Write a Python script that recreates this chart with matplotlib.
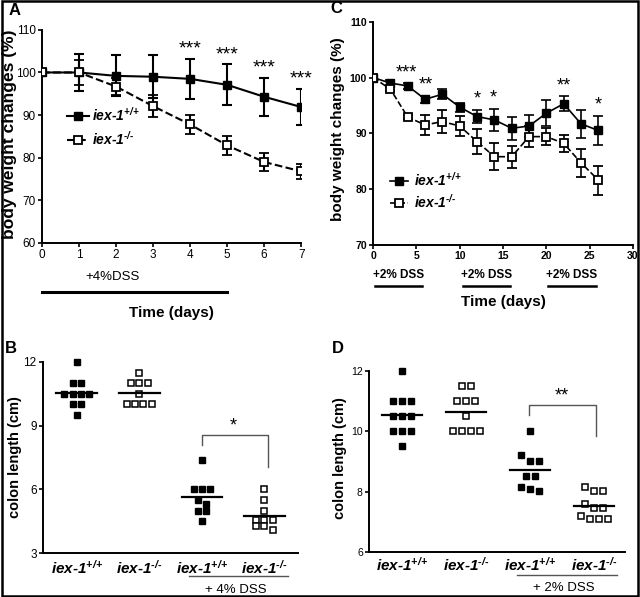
import matplotlib
matplotlib.use('Agg')
import matplotlib.pyplot as plt
from matplotlib.lines import Line2D
from matplotlib.patches import Rectangle

plt.rcParams['font.family'] = ['Liberation Sans', 'DejaVu Sans']
plt.rcParams['mathtext.fontset'] = 'custom'
plt.rcParams['mathtext.it'] = 'Liberation Sans:italic:bold'
plt.rcParams['mathtext.rm'] = 'Liberation Sans:italic:bold'
plt.rcParams['mathtext.bf'] = 'Liberation Sans:bold'

# ---- Panel A: body weight, 4% DSS ----
days_a = [0, 1, 2, 3, 4, 5, 6, 7]
wt_a = [100, 100, 99.2, 99.0, 98.5, 97.1, 94.3, 91.9]
wt_a_err = [0, 4.4, 4.8, 5.0, 4.7, 4.8, 4.4, 4.2]
ko_a = [100, 100, 96.7, 92.1, 87.8, 82.9, 79.0, 76.8]
ko_a_err = [0, 3.0, 2.0, 2.5, 2.2, 2.3, 2.1, 1.7]
stars_a = [(4, '***'), (5, '***'), (6, '***'), (7, '***')]
dss_a = (0, 5)

# ---- Panel C: body weight, cycles of 2% DSS ----
days_c = [0, 2, 4, 6, 8, 10, 12, 14, 16, 18, 20, 22, 24, 26]
wt_c = [100, 99.0, 98.5, 96.1, 97.0, 94.7, 93.0, 92.4, 90.9, 91.3, 93.6, 95.3, 91.7, 90.5]
wt_c_err = [0, 0.6, 0.5, 0.6, 0.9, 0.8, 1.2, 2.0, 2.1, 2.0, 2.3, 1.3, 2.5, 2.6]
ko_c = [100, 97.9, 92.9, 91.5, 92.1, 91.3, 88.5, 85.8, 85.8, 89.4, 89.4, 88.2, 84.7, 81.6]
ko_c_err = [0, 0.4, 0.4, 1.8, 2.1, 1.8, 2.2, 2.4, 2.0, 1.9, 1.5, 1.5, 2.5, 2.6]
stars_c = [(3.85, 99.0, '***'), (6.1, 96.7, '**'), (12, 94.2, '*'), (13.9, 94.4, '*'),
           (22, 96.6, '**'), (26, 93.1, '*')]
dss_c = [(0.2, 5.6), (10.4, 15.8), (20.2, 25.7)]

# ---- Panel B: colon length, 4% DSS ----
groups_b = [
    [12, 11, 11, 10.5, 10.5, 10.5, 10.5, 10, 10, 9.5],
    [11.5, 11, 11, 11, 10.5, 10, 10, 10, 10],
    [7.4, 6, 6, 6, 5.5, 5.3, 5.0, 5.0, 4.5],
    [6.0, 5.5, 5.0, 4.55, 4.55, 4.55, 4.27, 4.27, 4.08],
]
# ---- Panel D: colon length, 2% DSS ----
groups_d = [
    [12, 11, 11, 11, 10.5, 10.5, 10.5, 10, 10, 10, 9.5],
    [11.5, 11.5, 11, 11, 11, 10.5, 10, 10, 10, 10],
    [10.0, 9.22, 9.02, 9.02, 8.52, 8.52, 8.16, 8.09, 8.02],
    [8.17, 8.02, 8.02, 7.59, 7.47, 7.47, 7.19, 7.08, 7.08, 7.08],
]
filled = [True, False, True, False]
cat_labels = [r'$iex\text{-}1^{\text{+/+}}$', r'$iex\text{-}1^{\text{-/-}}$',
              r'$iex\text{-}1^{\text{+/+}}$', r'$iex\text{-}1^{\text{-/-}}$']


def swarm_offsets(vals, bin_h, step):
    # put near-equal values side by side, centred on the group
    order = sorted(range(len(vals)), key=lambda i: -vals[i])
    rows = []
    for i in order:
        if rows and vals[rows[-1][0]] - vals[i] < bin_h:
            rows[-1].append(i)
        else:
            rows.append([i])
    offs = [0.0] * len(vals)
    for row in rows:
        for k, i in enumerate(row):
            offs[i] = (k - (len(row) - 1) / 2) * step
    return offs


def style_axes(ax, bold_ticks=False, tick_size=8):
    for s in ['top', 'right']:
        ax.spines[s].set_visible(False)
    for s in ['left', 'bottom']:
        ax.spines[s].set_linewidth(1.4)
    ax.tick_params(width=1.2, length=3, labelsize=tick_size, pad=1.5)
    if bold_ticks:
        for t in ax.get_xticklabels() + ax.get_yticklabels():
            t.set_fontweight('bold')


def weight_panel(ax, x, wt, wt_err, ko, ko_err, ms, lw):
    ax.errorbar(x, wt, yerr=wt_err, fmt='-s', color='black', mfc='black',
                ms=ms, lw=lw, elinewidth=lw, capsize=3.5, capthick=lw,
                zorder=3)
    ax.errorbar(x, ko, yerr=ko_err, fmt='--s', color='black', mfc='white',
                mew=1.3, ms=ms, lw=lw, elinewidth=lw, capsize=3.5,
                capthick=lw, zorder=4)
    h_wt = Line2D([], [], color='black', ls='-', lw=lw, marker='s', ms=ms,
                  mfc='black')
    h_ko = Line2D([], [], color='black', ls='--', lw=lw, marker='s', ms=ms,
                  mfc='white', mew=1.3)
    return [h_wt, h_ko]


def scatter_panel(ax, groups, bin_h, step, ms, mean_w):
    for gi, vals in enumerate(groups):
        xc = gi + 1
        offs = swarm_offsets(vals, bin_h, step)
        xs = [xc + o for o in offs]
        if filled[gi]:
            ax.plot(xs, vals, 's', color='black', ms=ms, ls='none', zorder=3,
                    clip_on=False)
        else:
            ax.plot(xs, vals, 's', mfc='white', mec='black', mew=1.1,
                    ms=ms, ls='none', zorder=3, clip_on=False)
        mean = sum(vals) / len(vals)
        ax.plot([xc - mean_w / 2, xc + mean_w / 2], [mean, mean], '-',
                color='black', lw=1.6, zorder=4)
    ax.set_xticks([1, 2, 3, 4])
    ax.set_xticklabels(cat_labels)


fig = plt.figure(figsize=(6.4, 5.97), dpi=100)

# Panel A
ax = fig.add_axes([0.0656, 0.593, 0.405, 0.357])
handles = weight_panel(ax, days_a, wt_a, wt_a_err, ko_a, ko_a_err, 6, 1.5)
ax.set_xlim(0, 7)
ax.set_ylim(60, 110)
ax.set_xticks(days_a)
ax.set_yticks(range(60, 111, 10))
style_axes(ax, tick_size=8.5)
for d, s in stars_a:
    ax.annotate(s, (d, wt_a[d] + wt_a_err[d]), xytext=(0, 1),
                textcoords='offset points', ha='center', va='bottom',
                fontsize=14)
ax.legend(handles, [r'$iex\text{-}1^{\text{+/+}}$', r'$iex\text{-}1^{\text{-/-}}$'],
          loc='center left', bbox_to_anchor=(0.095, 0.545), frameon=False,
          fontsize=10, handlelength=1.6, handletextpad=0.2,
          labelspacing=0.45, borderpad=0, borderaxespad=0)
tr = ax.get_xaxis_transform()
ax.text(1.9, -0.16, '+4%DSS', transform=tr, ha='center', va='center',
        fontsize=9.5)
ax.plot(dss_a, [-0.23, -0.23], transform=tr, color='black', lw=2.2,
        clip_on=False)
ax.set_xlabel('Time (days)', fontsize=11, fontweight='bold')
ax.xaxis.set_label_coords(0.5, -0.295)
ax.set_ylabel('body weight changes (%)', fontsize=12.5, fontweight='bold')
ax.yaxis.set_label_coords(-0.097, 0.51)

# Panel C
ax = fig.add_axes([0.583, 0.590, 0.406, 0.3735])
handles = weight_panel(ax, days_c, wt_c, wt_c_err, ko_c, ko_c_err, 5.5, 1.2)
ax.set_xlim(0, 30)
ax.set_ylim(70, 110)
ax.set_xticks(range(0, 31, 5))
ax.set_yticks(range(70, 111, 10))
style_axes(ax, bold_ticks=True, tick_size=7.5)
for x, y, s in stars_c:
    ax.annotate(s, (x, y), xytext=(0, 1.5), textcoords='offset points',
                ha='center', va='bottom', fontsize=13)
ax.legend(handles, [r'$iex\text{-}1^{\text{+/+}}$', r'$iex\text{-}1^{\text{-/-}}$'],
          loc='center left', bbox_to_anchor=(0.065, 0.242), frameon=False,
          fontsize=10, handlelength=1.3, handletextpad=0.4,
          labelspacing=0.3, borderpad=0, borderaxespad=0)
tr = ax.get_xaxis_transform()
for a, b in dss_c:
    ax.text((a + b) / 2, -0.135, '+2% DSS', transform=tr, ha='center',
            va='center', fontsize=8.5, fontweight='bold')
    ax.plot([a, b], [-0.184, -0.184], transform=tr, color='black', lw=1.8,
            clip_on=False)
ax.set_xlabel('Time (days)', fontsize=11, fontweight='bold')
ax.xaxis.set_label_coords(0.5, -0.225)
ax.set_ylabel('body weight changes (%)', fontsize=11, fontweight='bold')
ax.yaxis.set_label_coords(-0.108, 0.52)

# Panel B
ax = fig.add_axes([0.067, 0.0737, 0.398, 0.320])
scatter_panel(ax, groups_b, 0.25, 0.133, 5, 0.65)
ax.set_xlim(0.458, 4.53)
ax.set_ylim(3, 12)
ax.set_yticks([3, 6, 9, 12])
style_axes(ax, tick_size=8.5)
ax.tick_params(axis='x', length=0, pad=4, labelsize=11)
ax.plot([3.0, 3.0, 4.05, 4.05], [8.09, 8.56, 8.56, 7.07], color='#555555',
        lw=1.0)
ax.text(3.5, 8.6, '*', ha='center', va='bottom', fontsize=13)
tr = ax.get_xaxis_transform()
ax.plot([2.8, 4.38], [-0.12, -0.12], transform=tr, color='#555555', lw=1.0,
        clip_on=False)
ax.text(3.55, -0.195, '+ 4% DSS', transform=tr, ha='center', va='center',
        fontsize=9.5)
ax.set_ylabel('colon length (cm)', fontsize=10.5, fontweight='bold')
ax.yaxis.set_label_coords(-0.082, 0.5)

# Panel D
ax = fig.add_axes([0.5766, 0.0754, 0.4, 0.303])
scatter_panel(ax, groups_d, 0.25, 0.14, 5, 0.62)
ax.set_xlim(0.484, 4.48)
ax.set_ylim(6, 12)
ax.set_yticks([6, 8, 10, 12])
style_axes(ax, tick_size=7.5)
ax.tick_params(axis='x', length=0, pad=3, labelsize=11)
ax.plot([2.98, 2.98, 4.02, 4.02], [10.54, 10.87, 10.87, 9.85],
        color='#555555', lw=1.0)
ax.text(3.5, 10.9, '**', ha='center', va='bottom', fontsize=13)
tr = ax.get_xaxis_transform()
ax.plot([2.8, 4.36], [-0.127, -0.127], transform=tr, color='#555555',
        lw=1.0, clip_on=False)
ax.text(3.52, -0.2, '+ 2% DSS', transform=tr, ha='center', va='center',
        fontsize=9.5)
ax.set_ylabel('colon length (cm)', fontsize=10.5, fontweight='bold')
ax.yaxis.set_label_coords(-0.086, 0.52)

# Panel letters
for x, y, s in [(0.023, 0.982, 'A'), (0.525, 0.985, 'C'),
                (0.017, 0.417, 'B'), (0.528, 0.417, 'D')]:
    fig.text(x, y, s, ha='center', va='center', fontsize=12,
             fontweight='bold')

# Outer frame
fig.add_artist(Rectangle((0.003, 0.002), 0.994, 0.996, fill=False, lw=1.8,
                         edgecolor='black', transform=fig.transFigure))

fig.savefig('out.png', dpi=100)
plt.close(fig)
